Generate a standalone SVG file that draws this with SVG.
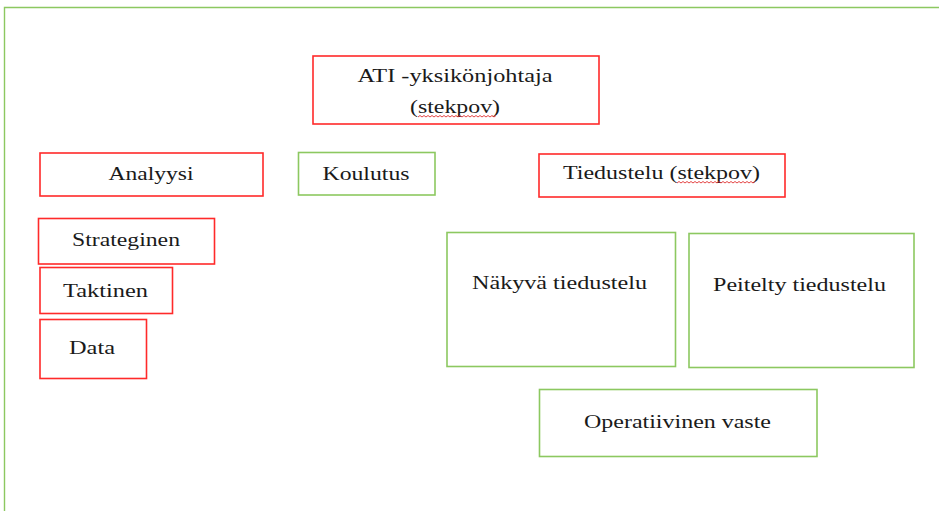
<svg xmlns="http://www.w3.org/2000/svg" width="939" height="511" viewBox="0 0 939 511">
  <style>
    .red { fill: #ffffff; stroke: #ff2a2a; stroke-width: 1.6; }
    .green { fill: #ffffff; stroke: #8cc860; stroke-width: 1.6; }
    .frame { fill: none; stroke: #8cc860; stroke-width: 1.4; }
    .lbl { font-family: "Liberation Serif", "Times New Roman", serif; font-size: 18px; fill: #1a1a1a; text-anchor: middle; }
    .spell { fill: none; stroke: #e03030; stroke-width: 0.9; }
  </style>

  <!-- page frame -->
  <path class="frame" d="M4.5,511 V7.5 H939"/>

  <g id="ati">
    <rect class="red" x="313" y="56" width="286" height="68"/>
    <text class="lbl" x="455" y="82" textLength="195" lengthAdjust="spacingAndGlyphs">ATI -yksikönjohtaja</text>
    <text class="lbl" x="455" y="113" textLength="90" lengthAdjust="spacingAndGlyphs">(stekpov)</text>
    <path class="spell" d="M418,117 l2,-1.5 l2,1.5 l2,-1.5 l2,1.5 l2,-1.5 l2,1.5 l2,-1.5 l2,1.5 l2,-1.5 l2,1.5 l2,-1.5 l2,1.5 l2,-1.5 l2,1.5 l2,-1.5 l2,1.5 l2,-1.5 l2,1.5 l2,-1.5 l2,1.5 l2,-1.5 l2,1.5 l2,-1.5 l2,1.5 l2,-1.5 l2,1.5 l2,-1.5 l2,1.5 l2,-1.5 l2,1.5 l2,-1.5 l2,1.5 l2,-1.5 l2,1.5 l2,-1.5 l2,1.5 l2,-1.5 l2,1.5 l2,-1.5"/>
  </g>

  <g id="analyysi">
    <rect class="red" x="40" y="153" width="223" height="43"/>
    <text class="lbl" x="151" y="180" textLength="85" lengthAdjust="spacingAndGlyphs">Analyysi</text>
  </g>

  <g id="koulutus">
    <rect class="green" x="298.5" y="152.5" width="136.5" height="42.5"/>
    <text class="lbl" x="366" y="180" textLength="87" lengthAdjust="spacingAndGlyphs">Koulutus</text>
  </g>

  <g id="tiedustelu">
    <rect class="red" x="539" y="154" width="246" height="43"/>
    <text class="lbl" x="661.5" y="179" textLength="197" lengthAdjust="spacingAndGlyphs">Tiedustelu (stekpov)</text>
    <path class="spell" d="M677,183 l2,-1.5 l2,1.5 l2,-1.5 l2,1.5 l2,-1.5 l2,1.5 l2,-1.5 l2,1.5 l2,-1.5 l2,1.5 l2,-1.5 l2,1.5 l2,-1.5 l2,1.5 l2,-1.5 l2,1.5 l2,-1.5 l2,1.5 l2,-1.5 l2,1.5 l2,-1.5 l2,1.5 l2,-1.5 l2,1.5 l2,-1.5 l2,1.5 l2,-1.5 l2,1.5 l2,-1.5 l2,1.5 l2,-1.5 l2,1.5 l2,-1.5 l2,1.5 l2,-1.5 l2,1.5 l2,-1.5 l2,1.5 l2,-1.5"/>
  </g>

  <g id="strateginen">
    <rect class="red" x="38.5" y="218.5" width="176" height="45.5"/>
    <text class="lbl" x="126" y="246" textLength="108" lengthAdjust="spacingAndGlyphs">Strateginen</text>
  </g>

  <g id="taktinen">
    <rect class="red" x="40" y="267.5" width="132.5" height="46"/>
    <text class="lbl" x="105.5" y="297" textLength="85" lengthAdjust="spacingAndGlyphs">Taktinen</text>
  </g>

  <g id="data">
    <rect class="red" x="40" y="319.5" width="106.5" height="59"/>
    <text class="lbl" x="92" y="354" textLength="46" lengthAdjust="spacingAndGlyphs">Data</text>
  </g>

  <g id="nakyva">
    <rect class="green" x="447" y="232.5" width="228.5" height="134"/>
    <text class="lbl" x="559.5" y="289" textLength="175" lengthAdjust="spacingAndGlyphs">Näkyvä tiedustelu</text>
  </g>

  <g id="peitelty">
    <rect class="green" x="689" y="233.5" width="225" height="134"/>
    <text class="lbl" x="799.5" y="291" textLength="173" lengthAdjust="spacingAndGlyphs">Peitelty tiedustelu</text>
  </g>

  <g id="operatiivinen">
    <rect class="green" x="539.5" y="389.5" width="277.5" height="67"/>
    <text class="lbl" x="677.5" y="428" textLength="187" lengthAdjust="spacingAndGlyphs">Operatiivinen vaste</text>
  </g>

  <g id="connectors"/>
</svg>
